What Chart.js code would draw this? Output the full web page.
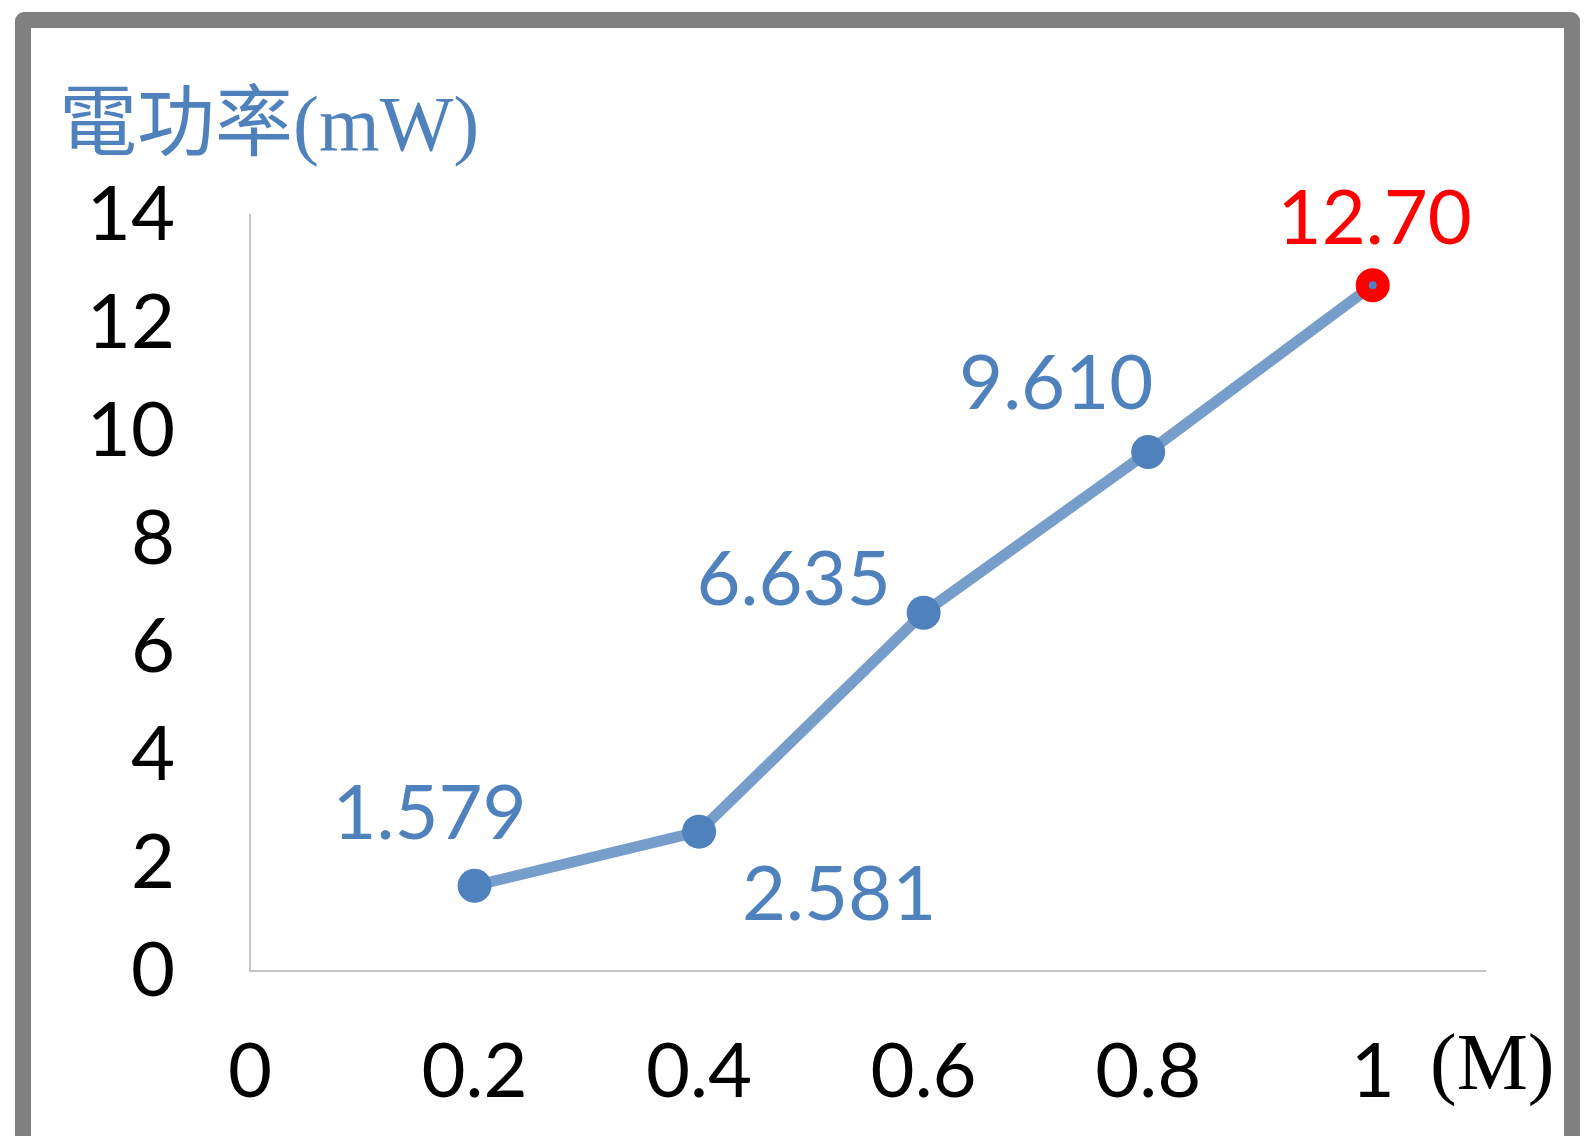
<!DOCTYPE html>
<html>
<head>
<meta charset="utf-8">
<title>電功率</title>
<script src="https://cdn.jsdelivr.net/npm/chart.js@4.4.1/dist/chart.umd.min.js"></script>
<style>
  html, body { margin: 0; padding: 0; background: #ffffff; overflow: hidden; }
  #wrap { position: relative; width: 1590px; height: 1136px; }
  #chart { position: absolute; left: 0; top: 0; }
  #frame {
    position: absolute; left: 15px; top: 12px;
    width: 1533px; height: 1300px;
    border: 16px solid #808080; border-radius: 9px;
    pointer-events: none;
  }
</style>
</head>
<body>
<div id="wrap">
  <canvas id="chart" width="1590" height="1136"></canvas>
  <div id="frame"></div>
</div>
<script>
// Concentration (M) and the electric power measured at each one (mW)
const concentrations = [0.2, 0.4, 0.6, 0.8, 1.0];
const powerValues = [1.579, 2.581, 6.635, 9.610, 12.70];

// Axis ticks
const xTickValues = [0, 0.2, 0.4, 0.6, 0.8, 1];
const xTickLabels = ['0', '0.2', '0.4', '0.6', '0.8', '1'];
const yTickValues = [0, 2, 4, 6, 8, 10, 12, 14];
const yTickLabels = ['0', '2', '4', '6', '8', '10', '12', '14'];

// Value label placement relative to each point (px)
const labelOffsets = [[-45, -74], [140, 61], [-130, -35], [-92, -70], [2, -68]];
const labelColors = ['#4F81BD', '#4F81BD', '#4F81BD', '#4F81BD', '#FF0000'];

const BLUE = '#4F81BD';
const LABEL_FONT = 76;

const valueLabels = {
  id: 'valueLabels',
  afterDatasetsDraw(chart) {
    const ctx = chart.ctx;
    const meta = chart.getDatasetMeta(0);
    ctx.save();
    ctx.font = LABEL_FONT + 'px Lato';
    ctx.textAlign = 'center';
    ctx.textBaseline = 'alphabetic';
    meta.data.forEach((pt, i) => {
      const v = powerValues[i];
      const text = v.toPrecision(4);
      ctx.fillStyle = labelColors[i];
      ctx.fillText(text, pt.x + labelOffsets[i][0], pt.y + labelOffsets[i][1] + LABEL_FONT * 0.358);
    });
    ctx.restore();
  }
};

const axisCaptions = {
  id: 'axisCaptions',
  afterDraw(chart) {
    const ctx = chart.ctx;
    ctx.save();
    ctx.textBaseline = 'alphabetic';
    ctx.textAlign = 'left';
    ctx.fillStyle = BLUE;
    ctx.font = '78px "Liberation Serif", "Noto Sans CJK TC"';
    ctx.fillText('電功率(mW)', 59, 150);
    ctx.fillStyle = '#000000';
    ctx.font = '80px "Liberation Serif"';
    ctx.fillText('(M)', 1430, 1089);
    ctx.restore();
  }
};

new Chart(document.getElementById('chart'), {
  type: 'scatter',
  data: {
    datasets: [{
      data: concentrations.map((x, i) => ({ x: x, y: powerValues[i] })),
      showLine: true,
      borderColor: '#779DCB',
      borderWidth: 11,
      pointBackgroundColor: BLUE,
      pointBorderColor: ['#4F81BD', '#4F81BD', '#4F81BD', '#4F81BD', '#FF0000'],
      pointBorderWidth: [0, 0, 0, 0, 13],
      pointRadius: [17, 17, 17, 17, 10.5],
      pointHoverRadius: [17, 17, 17, 17, 10.5]
    }]
  },
  options: {
    responsive: false,
    animation: false,
    devicePixelRatio: 1,
    layout: { padding: { left: 85, right: 105, top: 215, bottom: 18 } },
    plugins: { legend: { display: false }, tooltip: { enabled: false }, title: { display: false } },
    scales: {
      x: {
        type: 'linear',
        min: 0,
        max: 1.1,
        afterBuildTicks: (s) => { s.ticks = xTickValues.map(v => ({ value: v })); },
        afterFit: (s) => { s.height = 147; },
        grid: { display: false, drawTicks: false },
        border: { display: true, color: '#C4C4C4', width: 2 },
        ticks: {
          color: '#000000',
          font: { family: 'Lato', size: 76 },
          padding: 56,
          maxRotation: 0,
          autoSkip: false,
          callback: (v, i) => xTickLabels[i]
        }
      },
      y: {
        min: 0,
        max: 14,
        afterBuildTicks: (s) => { s.ticks = yTickValues.map(v => ({ value: v })); },
        afterFit: (s) => { s.width = 165; },
        grid: { display: false, drawTicks: false },
        border: { display: true, color: '#C4C4C4', width: 2 },
        ticks: {
          color: '#000000',
          font: { family: 'Lato', size: 76 },
          padding: 75,
          autoSkip: false,
          callback: (v, i) => yTickLabels[i]
        }
      }
    }
  },
  plugins: [valueLabels, axisCaptions]
});
</script>
</body>
</html>
